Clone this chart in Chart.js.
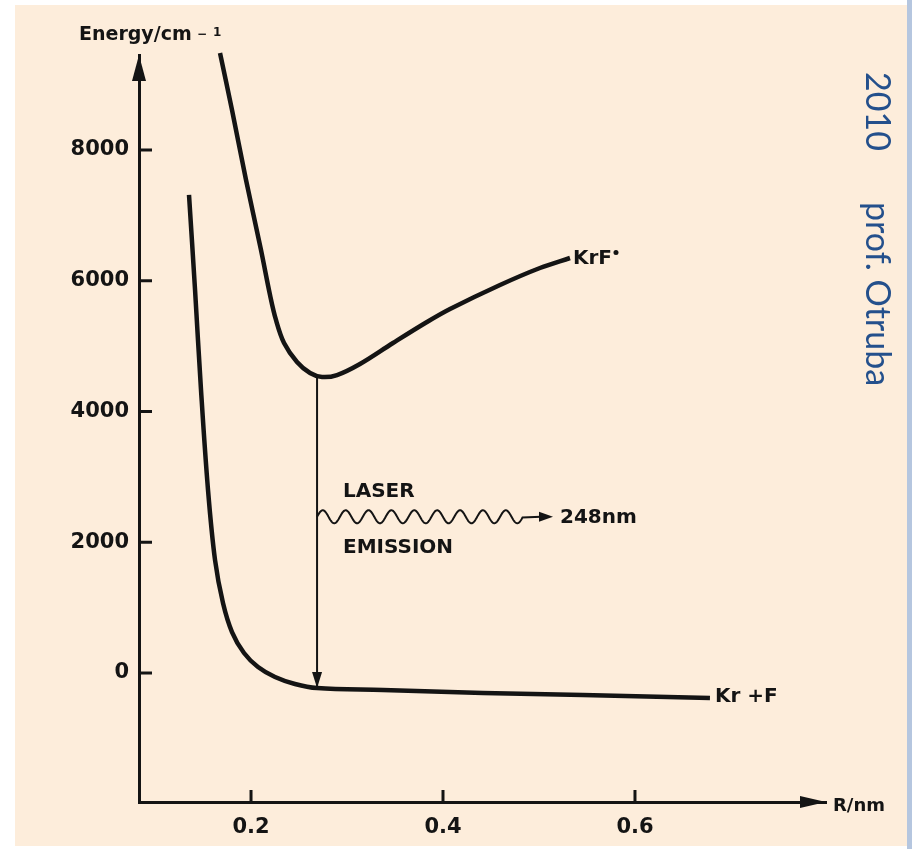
<!DOCTYPE html>
<html>
<head>
<meta charset="utf-8">
<script src="https://cdn.jsdelivr.net/npm/chart.js@4.4.0/dist/chart.umd.min.js"></script>
<style>
  html, body { margin: 0; padding: 0; background: #fff; }
  #wrap { width: 912px; height: 849px; position: relative; }
</style>
</head>
<body>
<div id="wrap"><canvas id="krfChart"></canvas></div>
<script>
// KrF* excited state (upper curve)
const krfR = [0.1677, 0.1802, 0.1948, 0.2104, 0.2198, 0.2260, 0.2344, 0.2479, 0.2615, 0.2740, 0.2896, 0.3135, 0.3479, 0.3833, 0.4073, 0.4594, 0.5010, 0.5323];
const krfE = [9484, 8612, 7541, 6470, 5782, 5400, 5048, 4758, 4589, 4528, 4558, 4727, 5048, 5369, 5568, 5935, 6195, 6348];

// Kr + F ground state (lower curve)
const groundR = [0.1354, 0.1417, 0.1479, 0.1552, 0.1625, 0.1708, 0.1802, 0.1927, 0.2073, 0.2250, 0.2458, 0.2688, 0.3375, 0.4417, 0.5458, 0.6781];
const groundE = [7312, 5858, 4329, 2799, 1729, 1071, 627, 306, 92, -61, -168, -230, -260, -306, -337, -382];

// laser transition (vertical arrow)
const emissionR = [0.2688, 0.2688];
const emissionE = [4528, -230];

// wavy photon arrow: start, end of wave, arrow tip
const photonR = [0.2688, 0.4833, 0.5146];
const photonE = 2390;

const xTicks = [0.2, 0.4, 0.6];
const yTicks = [0, 2000, 4000, 6000, 8000];

// text labels in data coordinates
const notes = [
  { text: 'LASER', r: 0.2958, e: 2770 },
  { text: 'EMISSION', r: 0.2958, e: 1910 },
  { text: '248nm', r: 0.5219, e: 2370 },
  { text: 'KrF', r: 0.5354, e: 6340 },
  { text: 'Kr +F', r: 0.6833, e: -370 }
];

const INK = '#141414';
const FONT = '"DejaVu Sans", sans-serif';

const pts = (xs, ys) => xs.map((x, i) => ({ x: x, y: ys[i] }));

function arrowHead(ctx, x, y, dir, len, half) {
  ctx.beginPath();
  if (dir === 'up') { ctx.moveTo(x, y); ctx.lineTo(x - half, y + len); ctx.lineTo(x + half, y + len); }
  if (dir === 'down') { ctx.moveTo(x, y); ctx.lineTo(x - half, y - len); ctx.lineTo(x + half, y - len); }
  if (dir === 'right') { ctx.moveTo(x, y); ctx.lineTo(x - len, y - half); ctx.lineTo(x - len, y + half); }
  ctx.closePath();
  ctx.fill();
}

const paper = {
  id: 'paper',
  beforeDraw(chart) {
    const ctx = chart.ctx;
    ctx.save();
    ctx.fillStyle = '#ffffff';
    ctx.fillRect(0, 0, chart.width, chart.height);
    ctx.fillStyle = '#fdeddb';
    ctx.fillRect(15, 5, 892, 841);
    ctx.fillStyle = '#b5c6df';
    ctx.fillRect(907, 0, 5, chart.height);
    ctx.restore();
  },
  afterDraw(chart) {
    const ctx = chart.ctx;
    const xs = chart.scales.x, ys = chart.scales.y;
    const area = chart.chartArea;
    ctx.save();
    ctx.fillStyle = INK;
    ctx.strokeStyle = INK;

    // axis arrows
    arrowHead(ctx, area.left, area.top, 'up', 26, 7);
    arrowHead(ctx, area.right, area.bottom, 'right', 26, 6);

    // inner tick marks
    ctx.lineWidth = 3;
    yTicks.forEach(v => {
      const y = ys.getPixelForValue(v);
      ctx.beginPath(); ctx.moveTo(area.left, y); ctx.lineTo(area.left + 13, y); ctx.stroke();
    });
    xTicks.forEach(v => {
      const x = xs.getPixelForValue(v);
      ctx.beginPath(); ctx.moveTo(x, area.bottom); ctx.lineTo(x, area.bottom - 12); ctx.stroke();
    });

    // emission arrow head
    arrowHead(ctx, xs.getPixelForValue(emissionR[1]), ys.getPixelForValue(emissionE[1]), 'down', 16, 5);

    // wavy photon
    const wy = ys.getPixelForValue(photonE);
    const w0 = xs.getPixelForValue(photonR[0]);
    const w1 = xs.getPixelForValue(photonR[1]);
    const tip = xs.getPixelForValue(photonR[2]);
    const lambda = (w1 - w0) / 9;
    ctx.lineWidth = 2;
    ctx.beginPath();
    ctx.moveTo(w0, wy);
    for (let px = w0; px <= w1; px += 0.5) {
      ctx.lineTo(px, wy - 6.5 * Math.sin(2 * Math.PI * (px - w0) / lambda));
    }
    ctx.lineTo(tip - 12, wy);
    ctx.stroke();
    arrowHead(ctx, tip, wy, 'right', 14, 5);

    // labels
    ctx.textBaseline = 'middle';
    ctx.textAlign = 'left';
    ctx.font = 'bold 20px ' + FONT;
    notes.forEach(n => {
      const x = xs.getPixelForValue(n.r), y = ys.getPixelForValue(n.e);
      ctx.fillText(n.text, x, y);
      if (n.text === 'KrF') {
        const w = ctx.measureText(n.text).width;
        ctx.beginPath(); ctx.arc(x + w + 4, y - 6, 2.5, 0, 2 * Math.PI); ctx.fill();
      }
    });

    // axis titles
    ctx.font = 'bold 19px ' + FONT;
    ctx.textBaseline = 'alphabetic';
    ctx.fillText('Energy/cm', 79, 40);
    ctx.font = 'bold 12px ' + FONT;
    ctx.fillText('\u2212', 197, 38);
    ctx.fillText('1', 213, 36);
    ctx.font = 'bold 18px ' + FONT;
    ctx.textBaseline = 'middle';
    ctx.fillText('R/nm', 833, 806);

    // watermark
    ctx.translate(866, 0);
    ctx.rotate(Math.PI / 2);
    ctx.fillStyle = '#24508c';
    ctx.font = '34px Lato, "Open Sans", sans-serif';
    ctx.textBaseline = 'alphabetic';
    ctx.fillText('2010', 72, 0);
    ctx.fillText('prof. Otruba', 202, 0);
    ctx.restore();
  }
};

new Chart(document.getElementById('krfChart'), {
  type: 'line',
  data: {
    datasets: [
      { label: 'KrF*', data: pts(krfR, krfE), borderColor: INK, borderWidth: 4.5, pointRadius: 0, tension: 0.35, clip: false },
      { label: 'Kr + F', data: pts(groundR, groundE), borderColor: INK, borderWidth: 4.5, pointRadius: 0, tension: 0.35, clip: false },
      { label: 'emission', data: pts(emissionR, emissionE), borderColor: INK, borderWidth: 2, pointRadius: 0, tension: 0, clip: false }
    ]
  },
  options: {
    responsive: true,
    maintainAspectRatio: false,
    animation: false,
    layout: { padding: { top: 55, right: 86, left: 0, bottom: 0 } },
    plugins: { legend: { display: false }, tooltip: { enabled: false } },
    scales: {
      x: {
        type: 'linear',
        min: 0.0833,
        max: 0.799,
        afterFit: s => { s.height = 47; },
        afterBuildTicks: s => { s.ticks = xTicks.map(v => ({ value: v })); },
        grid: { display: false, drawTicks: false },
        border: { display: true, color: INK, width: 3 },
        ticks: { color: INK, padding: 13, font: { family: FONT, size: 21, weight: 'bold' }, maxRotation: 0, callback: v => v.toFixed(1) }
      },
      y: {
        type: 'linear',
        min: -1973,
        max: 9453,
        afterFit: s => { s.width = 139; },
        afterBuildTicks: s => { s.ticks = yTicks.map(v => ({ value: v })); },
        grid: { display: false, drawTicks: false },
        border: { display: true, color: INK, width: 3 },
        ticks: { color: INK, padding: 10, font: { family: FONT, size: 21, weight: 'bold' }, callback: v => String(v) }
      }
    }
  },
  plugins: [paper]
});
</script>
</body>
</html>
